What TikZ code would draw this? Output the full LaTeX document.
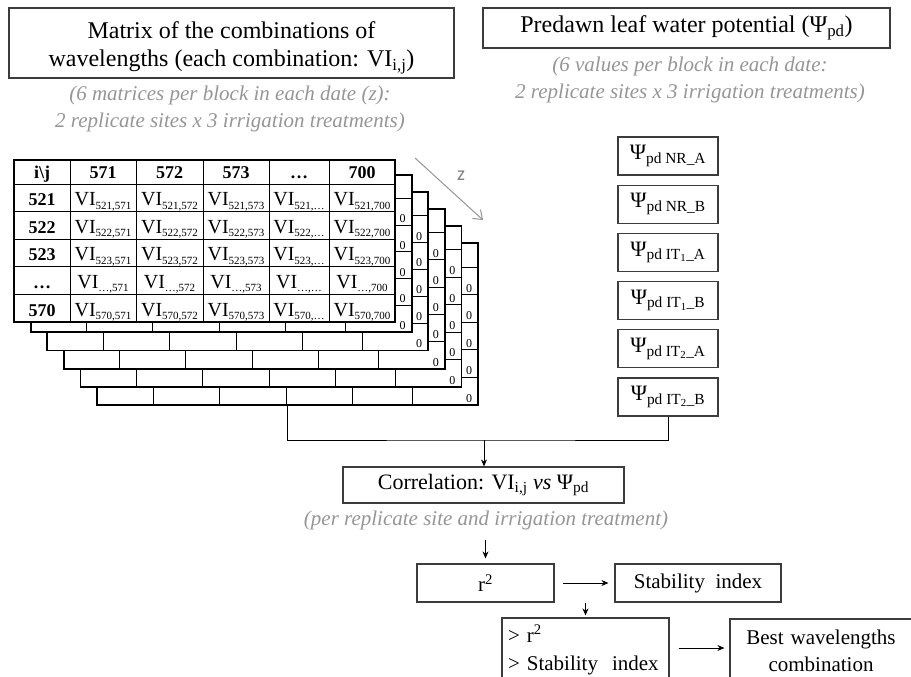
\documentclass[tikz,border=0pt]{standalone}
\usepackage{fontspec}
\setmainfont{Liberation Serif}
\newfontfamily\zfont{Carlito}
\usetikzlibrary{arrows.meta, positioning}
\definecolor{notegrey}{RGB}{150,150,150}
\definecolor{boxgrey}{RGB}{60,60,60}
\tikzset{framebox/.style={rectangle, draw=boxgrey, line width=1.2pt, fill=white, inner sep=0pt, align=center},
psibox/.style={rectangle, draw=boxgrey, line width=1.2pt, minimum width=100pt, minimum height=38pt, inner sep=0pt, font=\fontsize{22}{26}\selectfont},
notetext/.style={text=notegrey, font=\fontsize{21}{27}\selectfont\itshape, align=center, inner sep=0pt},
flowarrow/.style={-{Stealth[length=7pt, width=6pt]}, line width=0.9pt},
hdcell/.style={font=\fontsize{18}{20}\selectfont\bfseries, anchor=base, inner sep=0pt},
vicell/.style={font=\fontsize{20}{22}\selectfont, anchor=base, inner sep=0pt},
zerocell/.style={font=\fontsize{12}{14}\selectfont, anchor=base, inner sep=0pt}}
% low, small index of a VI value
\newcommand{\visub}[1]{\raisebox{-3.5pt}{\fontsize{11}{12}\selectfont #1}}
% frame and grid of one matrix, top left corner at (0,0)
\newcommand{\vigrid}{%
  \fill[white] (0,0) rectangle (381,162);
  \foreach \gx in {56,122,189,255,315} \draw[line width=0.8pt] (\gx,0) -- (\gx,162);
  \foreach \gy in {24,51.6,79.2,106.8,134.4} \draw[line width=0.8pt] (0,\gy) -- (381,\gy);
  \draw[line width=1.8pt] (0,0) rectangle (381,162);
}
% the VI values of the front matrix
\newcommand{\vitext}{%
  \node[hdcell] (h-0) at (28,18) {i\textbackslash j};
  \foreach \cj/\cx [count=\ci] in {571/89,572/155.5,573/222,…/285,700/348}
    \node[hdcell] (h-\ci) at (\cx,18) {\cj};
  \foreach \ri/\ry [count=\rn] in {521/45.6,522/73.2,523/100.8,…/128.4,570/156} {
    \node[hdcell] (r\rn-0) at (28,\ry) {\ri};
    \foreach \cj/\cx [count=\ci] in {571/89,572/155.5,573/222,…/285,700/348}
      \node[vicell] (r\rn-\ci) at (\cx,\ry) {VI\visub{\ri,\cj}};
  }%
}

\begin{document}
\begin{tikzpicture}[x=1pt, y=-1pt]
    \useasboundingbox (0,0) rectangle (911,677);
    \fill[white] (0,0) rectangle (911,677);
    \clip (0,0) rectangle (911,677);
    % Titles
    \node[framebox, minimum width=445pt, minimum height=70pt, font=\fontsize{24}{28}\selectfont] (matrixtitle) at (231.5,43) {\rule{0pt}{27pt}Matrix of the combinations of\\wavelengths (each combination: VI\textsubscript{i,j})};
    \node[framebox, minimum width=407pt, minimum height=40pt, font=\fontsize{24}{28}\selectfont] (psititle) at (686.5,28) {Predawn leaf water potential (Ψ\textsubscript{pd})};
    \node[notetext] (matrixnote) at (230,109) {(6 matrices per block in each date (z):\\2 replicate sites x 3 irrigation treatments)};
    \node[notetext] (psinote) at (690,80) {(6 values per block in each date:\\2 replicate sites x 3 irrigation treatments)};
    % Stack of matrices
    \foreach \k in {5,4,3,2,1} {
        \begin{scope}[shift={({14+16.6*\k},{158+17*\k})}, yscale={(156+1.2*\k)/162}]
            \vigrid
            \foreach \ly [count=\rn] in {51.6,79.2,106.8,134.4,162}
                \node[zerocell] (zero\k-\rn) at (372,\ly-2.5) {0};
        \end{scope}
    }
    \begin{scope}[shift={(14,160)}]
        \vigrid
        \vitext
    \end{scope}
    \coordinate (zfrom) at (415,158);
    \coordinate (zto) at (483,220);
    \draw[notegrey, line width=1pt, -{Straight Barb[length=8pt, width=12pt]}] (zfrom) -- (zto);
    \node[text=notegrey!85!black, font=\zfont\fontsize{20}{24}\selectfont] (zlabel) at (461,176) {z};
    % Psi values
    \node[psibox] (psiNRA) at (668,156) {Ψ\textsubscript{pd NR\_A}};
    \node[psibox, below=9pt of psiNRA] (psiNRB) {Ψ\textsubscript{pd NR\_B}};
    \node[psibox, below=9pt of psiNRB] (psiITaA) {Ψ\textsubscript{pd IT\textsubscript{1}\_A}};
    \node[psibox, below=9pt of psiITaA] (psiITaB) {Ψ\textsubscript{pd IT\textsubscript{1}\_B}};
    \node[psibox, below=9pt of psiITaB] (psiITbA) {Ψ\textsubscript{pd IT\textsubscript{2}\_A}};
    \node[psibox, below=9pt of psiITbA] (psiITbB) {Ψ\textsubscript{pd IT\textsubscript{2}\_B}};
    % Flow
    \node[framebox, minimum width=281pt, minimum height=36pt, font=\fontsize{22}{26}\selectfont] (corr) at (483.5,485) {Correlation: VI\textsubscript{i,j} \textit{vs} Ψ\textsubscript{pd}};
    \node[notetext] (corrnote) at (486,520) {(per replicate site and irrigation treatment)};
    \node[framebox, minimum width=137pt, minimum height=38pt, font=\fontsize{21}{26}\selectfont] (rsq) at (485.5,583) {r\textsuperscript{2}};
    \node[framebox, minimum width=166pt, minimum height=38pt, font=\fontsize{21}{26}\selectfont] (stab) at (698,583) {Stability\ \ index};
    \node[framebox, minimum height=64pt, text width=155pt, align=left, inner xsep=6pt, font=\fontsize{21}{28}\selectfont] (select) at (585.5,650) {> r\textsuperscript{2}\\> Stability\ \ index};
    \node[framebox, minimum height=64pt, text width=162pt, inner xsep=10pt, font=\fontsize{21}{27}\selectfont] (best) at (821,651) {Best wavelengths\\combination};
    \coordinate (stackout) at (287,405);
    \coordinate (join) at (484,440);
    \draw[line width=0.9pt] (stackout) |- (join) -| (psiITbB.south);
    \draw[flowarrow] (join) -- (join |- corr.north);
    \draw[flowarrow, shorten >=5pt] ([yshift=-10pt]corrnote.south -| rsq.north) -- (rsq.north);
    \draw[flowarrow, shorten <=8pt, shorten >=6pt] (rsq) -- (stab);
    \draw[flowarrow, shorten >=2pt] ([yshift=14pt]select.north) -- (select.north);
    \draw[flowarrow, shorten <=9pt, shorten >=5pt] (select.east |- 0,648) -- (best.west |- 0,648);
\end{tikzpicture}
\end{document}
